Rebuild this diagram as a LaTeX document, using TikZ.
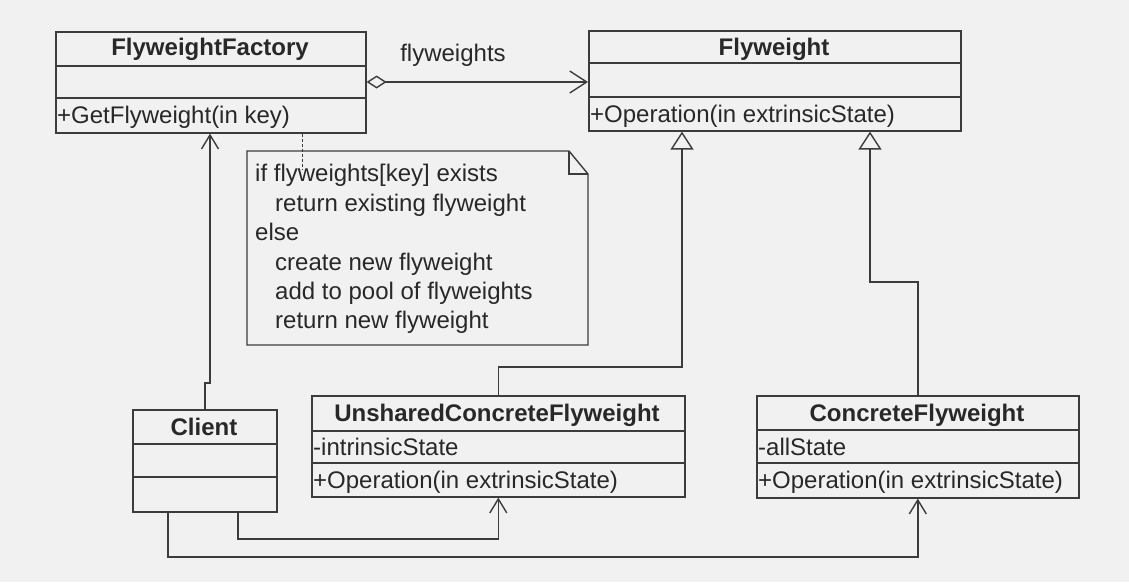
\documentclass[tikz,border=0pt]{standalone}
\usepackage{fontspec}
\setmainfont{Liberation Sans}
\usetikzlibrary{arrows.meta}
\definecolor{bg}{RGB}{241,241,241}
\definecolor{ink}{RGB}{40,40,40}
\definecolor{ln}{RGB}{60,60,60}
\begin{document}
\begin{tikzpicture}[x=1pt,y=-1pt,
  cls/.style={draw=ln,line width=1.6pt,inner sep=0pt,anchor=north west},
  sep/.style={draw=ln,line width=1.4pt},
  ttl/.style={anchor=base,inner sep=0pt,text=ink,font=\fontsize{24}{28}\selectfont\bfseries},
  mem/.style={anchor=base west,inner sep=0pt,text=ink,font=\fontsize{24}{28}\selectfont},
  lbl/.style={anchor=base,inner sep=0pt,text=ink,font=\fontsize{24}{28}\selectfont},
  dep/.style={draw=ln,line width=1.4pt,-{Straight Barb[length=14pt,width=17pt]}},
  inh/.style={draw=ln,line width=1.4pt,-{Triangle[open,length=18pt,width=23pt,fill=bg]}},
  agg/.style={draw=ln,line width=1.4pt,{Diamond[open,length=20pt,width=13pt,fill=bg]}-{Straight Barb[length=17pt,width=22pt]}},
  notelink/.style={draw=ln,line width=1pt,dash pattern=on 3pt off 2pt},
  notebox/.style={draw=ln,line width=1.4pt}
]
\fill[bg] (0,0) rectangle (1129,582);
\useasboundingbox (0,0) rectangle (1129,582);

% FlyweightFactory
\node[cls,minimum width=310pt,minimum height=101pt] (fac) at (55,31) {};
\draw[sep] (fac.west |- 0,66) -- (fac.east |- 0,66);
\draw[sep] (fac.west |- 0,98) -- (fac.east |- 0,98);
\node[ttl] (facT) at (210,55) {FlyweightFactory};
\node[mem] (facM) at (57,123) {+GetFlyweight(in key)};

% Flyweight
\node[cls,minimum width=372pt,minimum height=100pt] (fw) at (588,30) {};
\draw[sep] (fw.west |- 0,63) -- (fw.east |- 0,63);
\draw[sep] (fw.west |- 0,97) -- (fw.east |- 0,97);
\node[ttl] (fwT) at (774,55) {Flyweight};
\node[mem] (fwM) at (590,122) {+Operation(in extrinsicState)};

% Client
\node[cls,minimum width=144pt,minimum height=102pt] (cl) at (132,409) {};
\draw[sep] (cl.west |- 0,444) -- (cl.east |- 0,444);
\draw[sep] (cl.west |- 0,477) -- (cl.east |- 0,477);
\node[ttl] (clT) at (204,435) {Client};

% UnsharedConcreteFlyweight
\node[cls,minimum width=373pt,minimum height=101pt] (us) at (311,395) {};
\draw[sep] (us.west |- 0,431) -- (us.east |- 0,431);
\draw[sep] (us.west |- 0,463) -- (us.east |- 0,463);
\node[ttl] (usT) at (497,421) {UnsharedConcreteFlyweight};
\node[mem] (usA) at (313,455) {-intrinsicState};
\node[mem] (usM) at (313,488) {+Operation(in extrinsicState)};

% ConcreteFlyweight
\node[cls,minimum width=322pt,minimum height=102pt] (cf) at (756,395) {};
\draw[sep] (cf.west |- 0,430) -- (cf.east |- 0,430);
\draw[sep] (cf.west |- 0,463) -- (cf.east |- 0,463);
\node[ttl] (cfT) at (917,421) {ConcreteFlyweight};
\node[mem] (cfA) at (758,455) {-allState};
\node[mem] (cfM) at (758,488) {+Operation(in extrinsicState)};

% Note
\coordinate (nNW) at (247,151);
\coordinate (nSE) at (588,345);
\coordinate (nF) at (569,174);
\draw[notebox] (nNW) -- (nF |- nNW) -- (nSE |- nF) -- (nSE) -- (nNW |- nSE) -- cycle;
\draw[notebox] (nF |- nNW) -- (nF) -- (nSE |- nF);
\node[mem] (n1) at (255,181) {if flyweights[key] exists};
\node[mem] (n2) at (275,211) {return existing flyweight};
\node[mem] (n3) at (255,240) {else};
\node[mem] (n4) at (275,270) {create new flyweight};
\node[mem] (n5) at (275,299) {add to pool of flyweights};
\node[mem] (n6) at (275,328) {return new flyweight};
\coordinate (na) at (302,169);
\draw[notelink] (na |- fac.south) -- (na);

% Aggregation
\draw[agg] (fac.east |- 0,82) -- (fw.west |- 0,82);
\node[lbl] (aggL) at (453,61) {flyweights};

% Client -> Factory
\coordinate (j1) at (210,383);
\draw[dep] (cl.north) |- (j1) -- (j1 |- fac.south);

% Client -> Unshared
\coordinate (c1) at (238,539);
\draw[dep] (c1 |- cl.south) -- (c1) -| (us.south);

% Client -> Concrete
\coordinate (c2) at (168,557);
\draw[dep] (c2 |- cl.south) -- (c2) -| (cf.south);

% Unshared -> Flyweight
\coordinate (u1) at (682,367);
\draw[inh] (us.north) |- (u1) -- (u1 |- fw.south);

% Concrete -> Flyweight
\coordinate (k1) at (870,282);
\draw[inh] (cf.north) |- (k1) -- (k1 |- fw.south);
\end{tikzpicture}
\end{document}
